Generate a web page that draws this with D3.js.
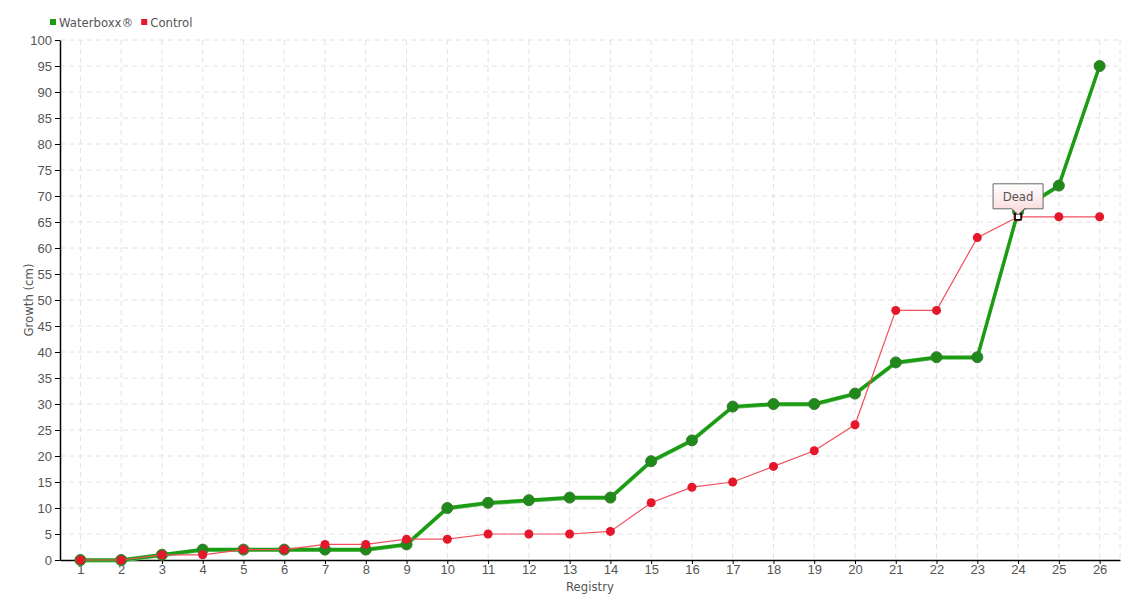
<!DOCTYPE html>
<html>
<head>
<meta charset="utf-8">
<script src="https://cdnjs.cloudflare.com/ajax/libs/d3/7.8.5/d3.min.js"></script>
<style>
body { margin: 0; background: #fff; }
svg { font-family: "DejaVu Sans Condensed", "Liberation Sans Narrow", sans-serif; }
.grid line { stroke: #e2e2e2; stroke-dasharray: 5,4; }
.axis text { fill: #555; font-size: 13px; }
.axis path, .axis line { stroke: #000; }
</style>
</head>
<body>
<div id="chart"></div>
<script>
// chart data
var registry = d3.range(1, 27);
var waterboxx = [0, 0, 1, 2, 2, 2, 2, 2, 3, 10, 11, 11.5, 12, 12, 19, 23, 29.5, 30, 30, 32, 38, 39, 39, 67, 72, 95];
var control = [0, 0, 1, 1, 2, 2, 3, 3, 4, 4, 5, 5, 5, 5.5, 11, 14, 15, 18, 21, 26, 48, 48, 62, 66, 66, 66];
var yTicks = d3.range(0, 101, 5);
var seriesNames = ["Waterboxx®", "Control"];
var deadAt = 24;

var width = 1140, height = 600;
var margin = {top: 40, right: 20, bottom: 40, left: 60};

var svg = d3.select("#chart").append("svg")
    .attr("width", width)
    .attr("height", height);

var xScale = d3.scalePoint().domain(registry).range([margin.left, width - margin.right]).padding(0.5);
var yScale = d3.scaleLinear().domain([0, 100]).range([height - margin.bottom, margin.top]);

// grid
var grid = svg.append("g").attr("class", "grid");
grid.selectAll(".h").data(yTicks.filter(function(d) { return d > 0; }))
    .enter().append("line")
    .attr("x1", margin.left).attr("x2", width - margin.right)
    .attr("y1", function(d) { return yScale(d); })
    .attr("y2", function(d) { return yScale(d); });
grid.selectAll(".v").data(registry)
    .enter().append("line")
    .attr("x1", function(d) { return xScale(d); })
    .attr("x2", function(d) { return xScale(d); })
    .attr("y1", margin.top).attr("y2", height - margin.bottom);
grid.append("line")
    .attr("x1", width - margin.right).attr("x2", width - margin.right)
    .attr("y1", margin.top).attr("y2", height - margin.bottom);

// axes
svg.append("g")
    .attr("class", "axis axis--x")
    .attr("transform", "translate(0," + (height - margin.bottom) + ")")
    .call(d3.axisBottom(xScale).tickSize(4).tickPadding(1).tickSizeOuter(0));

svg.append("g")
    .attr("class", "axis axis--y")
    .attr("transform", "translate(" + margin.left + ",0)")
    .call(d3.axisLeft(yScale).tickValues(yTicks).tickSize(5).tickSizeOuter(0));

svg.selectAll(".axis .domain").attr("stroke-width", 1.5);

svg.append("text")
    .attr("x", (margin.left + width - margin.right) / 2)
    .attr("y", 591)
    .attr("text-anchor", "middle")
    .attr("fill", "#555")
    .style("font-size", "13px")
    .text("Registry");

svg.append("text")
    .attr("transform", "translate(33," + ((margin.top + height - margin.bottom) / 2) + ") rotate(-90)")
    .attr("text-anchor", "middle")
    .attr("fill", "#555")
    .style("font-size", "13px")
    .text("Growth (cm)");

var line = d3.line()
    .x(function(d, i) { return xScale(registry[i]); })
    .y(function(d) { return yScale(d); });

// waterboxx series
svg.append("path")
    .datum(waterboxx)
    .attr("fill", "none")
    .attr("stroke", "#6cc46c")
    .attr("stroke-width", 2)
    .attr("transform", "translate(0,1.5)")
    .attr("d", line);
svg.append("path")
    .datum(waterboxx)
    .attr("fill", "none")
    .attr("stroke", "#1c9c12")
    .attr("stroke-width", 3.5)
    .attr("d", line);
svg.selectAll(".wdot")
    .data(waterboxx)
    .enter().append("circle")
    .attr("cx", function(d, i) { return xScale(registry[i]); })
    .attr("cy", function(d) { return yScale(d); })
    .attr("r", 5.5)
    .attr("fill", "#1f8a1a")
    .attr("stroke", "#3a7a30")
    .attr("stroke-width", 1);

// control series
svg.append("path")
    .datum(control)
    .attr("fill", "none")
    .attr("stroke", "#f0505e")
    .attr("stroke-width", 1.2)
    .attr("d", line);
svg.selectAll(".cdot")
    .data(control)
    .enter().append("circle")
    .attr("cx", function(d, i) { return xScale(registry[i]); })
    .attr("cy", function(d) { return yScale(d); })
    .attr("r", 4.5)
    .attr("fill", "#e5172a");

// dead marker and label
var dx = xScale(deadAt), dy = yScale(control[deadAt - 1]);
svg.append("rect")
    .attr("x", dx - 3).attr("y", dy - 3)
    .attr("width", 6).attr("height", 6)
    .attr("fill", "#fff").attr("stroke", "#000").attr("stroke-width", 1.5);

var grad = svg.append("defs").append("linearGradient")
    .attr("id", "tipGrad").attr("x1", 0).attr("x2", 0).attr("y1", 0).attr("y2", 1);
grad.append("stop").attr("offset", "0%").attr("stop-color", "#fff");
grad.append("stop").attr("offset", "100%").attr("stop-color", "#fbd6d6");

var bx = dx - 25, by = dy - 33, bw = 50, bh = 25;
svg.append("path")
    .attr("d", "M" + bx + "," + by + "h" + bw + "v" + bh + "h" + (-(bw / 2 - 6)) +
        "l-6,6l-6,-6h" + (-(bw / 2 - 6)) + "z")
    .attr("fill", "url(#tipGrad)")
    .attr("stroke", "#666")
    .attr("stroke-width", 1);
svg.append("text")
    .attr("x", dx).attr("y", by + 17)
    .attr("text-anchor", "middle")
    .attr("fill", "#555")
    .style("font-size", "13px")
    .text("Dead");

// legend
var legendColors = ["#1c9c12", "#e5172a"];
var lx = 50;
seriesNames.forEach(function(name, i) {
    svg.append("rect")
        .attr("x", lx).attr("y", 19)
        .attr("width", 6).attr("height", 6)
        .attr("fill", legendColors[i]);
    var t = svg.append("text")
        .attr("x", lx + 9).attr("y", 27)
        .attr("fill", "#555")
        .style("font-size", "13px")
        .text(name);
    lx += 9 + t.node().getComputedTextLength() + 8;
});
</script>
</body>
</html>
